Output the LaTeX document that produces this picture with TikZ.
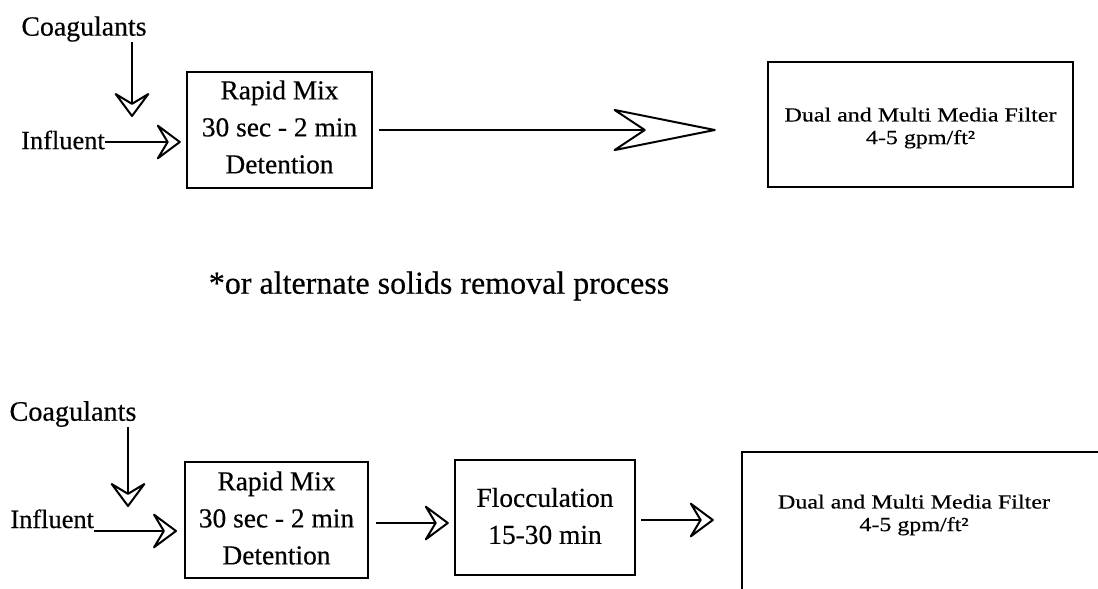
\documentclass[tikz,border=0pt]{standalone}
\usepackage{fontspec}
\setmainfont{Liberation Serif}[FakeBold=0.4]
\usetikzlibrary{arrows.meta}
\tikzset{
  box/.style={draw=black, line width=1.2pt, inner sep=0pt},
  lbl/.style={inner sep=0pt, align=center, font=\fontsize{13.7}{18.5}\selectfont},
  ftxt/.style={inner sep=0pt, align=center, font=\fontsize{10}{11.3}\selectfont\addfontfeatures{FakeStretch=1.2}},
  conn/.style={draw=black, line width=1pt},
  smallhead/.style={conn, -{Stealth[open, round, length=13.5pt, width=20pt, inset=6pt, line width=1pt]}},
  bighead/.style={conn, -{Stealth[open, round, length=55pt, width=22pt, inset=16.5pt, line width=1pt]}},
}
\begin{document}
\begin{tikzpicture}[x=0.5pt, y=-0.5pt]
\clip (0,0) rectangle (1098,589);
\fill[white] (0,0) rectangle (1098,589);

% ---------- top diagram ----------
\node[lbl, font=\fontsize{13.9}{16}\selectfont] (coag1) at (84,29) {Coagulants};
\node[lbl, font=\fontsize{13.2}{16}\selectfont] (inf1) at (63,140) {Influent};
\node[box, minimum width=92.5pt, minimum height=58pt] (rm1) at (279.5,130) {};
\node[lbl] at (279.5,127) {Rapid Mix\\30 sec - 2 min\\Detention};
\node[box, minimum width=152.5pt, minimum height=62.5pt] (filt1) at (920.5,124.5) {};
\node[ftxt] (filt1t) at (920.5,128) {Dual and Multi Media Filter\\4-5 gpm/ft²};

\coordinate (cg1e) at (132,117);
\draw[smallhead] (cg1e |- coag1.south) -- (cg1e);
\draw[smallhead, shorten >=2.5pt] (inf1.east |- 0,142) -- (rm1.west |- 0,142);
\draw[bighead, shorten <=3pt, shorten >=25.5pt] (rm1.east) -- (filt1.west |- rm1.east);

% ---------- note ----------
\node[lbl, font=\fontsize{16}{18}\selectfont] (note) at (439,286) {*or alternate solids removal process};

% ---------- bottom diagram ----------
\node[lbl, font=\fontsize{14.1}{16}\selectfont] (coag2) at (73,414) {Coagulants};
\node[lbl, font=\fontsize{13.2}{16}\selectfont, anchor=base west] (inf2) at (10,528) {Influent};
\node[box, minimum width=91.5pt, minimum height=58pt] (rm2) at (276.5,520) {};
\node[lbl] at (276.5,518) {Rapid Mix\\30 sec - 2 min\\Detention};
\node[box, minimum width=90pt, minimum height=57.5pt] (floc) at (545,517.5) {};
\node[lbl] at (545,516) {Flocculation\\15-30 min};
\node[box, minimum width=200pt, minimum height=90pt] (filt2) at (942,542) {};
\node[ftxt] (filt2t) at (914,515) {Dual and Multi Media Filter\\4-5 gpm/ft²};

\coordinate (cg2e) at (128,507);
\draw[smallhead] (cg2e |- coag2.south) -- (cg2e);
\coordinate (i2e) at (177,531);
\draw[smallhead] ([yshift=-1.5pt]inf2.base east) -- (i2e);
\draw[smallhead, shorten <=3.5pt, shorten >=2.5pt] (rm2.east |- 0,523) -- (floc.west |- 0,523);
\draw[smallhead, shorten <=2.5pt, shorten >=13.5pt] (floc.east |- 0,520) -- (filt2.west |- 0,520);
\end{tikzpicture}
\end{document}
